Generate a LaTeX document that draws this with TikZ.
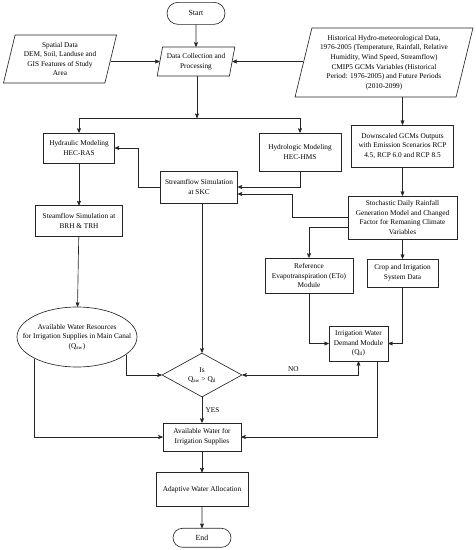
\documentclass[tikz,border=0pt]{standalone}
\usepackage{fontspec}
\setmainfont{Liberation Serif}
\usetikzlibrary{arrows,shapes,positioning}
\tikzset{
  %Define standard arrow tip
    >=stealth',
  %define style for boxes
  kasten/.style={
    rectangle,
    draw=black!85, line width=0.65pt,
    align=center,
    inner sep=1pt,
    font=\fontsize{7.3}{9.6}\selectfont},
  schraeg/.style={
    trapezium,
    trapezium left angle=75,
    trapezium right angle=105,
    trapezium stretches=true,
    draw=black!85, line width=0.65pt,
    align=center,
    inner sep=1pt,
    font=\fontsize{7.3}{9.6}\selectfont},
  rund/.style={
    rounded rectangle,
    draw=black!85, line width=0.65pt,
    inner sep=1pt,
    font=\fontsize{7.8}{9.6}\selectfont},
  raute/.style={
    diamond,
    aspect=1.8,
    draw=black!85, line width=0.65pt,
    align=center,
    inner sep=0pt,
    font=\fontsize{7.3}{9.6}\selectfont},
  oval/.style={
    ellipse,
    draw=black!85, line width=0.65pt,
    inner sep=0pt,
    font=\fontsize{7.3}{9.6}\selectfont},
  %define style for arrows
  pfeil/.style={
    ->,
    draw=black!85,
    line width=0.65pt}
}

\begin{document}
\begin{tikzpicture}[x=1pt, y=-1pt, node distance=21pt]
\useasboundingbox (0,0) rectangle (476,550);
%nodes
\node[schraeg, minimum width=78pt, minimum height=29pt] (daten) at (196,61.5)
     {Data Collection and\\Processing};
\node[rund, minimum width=60pt, minimum height=22pt, above=22pt of daten] (start) {Start};
\node[schraeg, minimum width=114pt, minimum height=48pt] (spatial) at (60,59)
     {Spatial Data\\DEM, Soil, Landuse and\\GIS Features of Study\\Area};
\node[schraeg, minimum width=178pt, minimum height=69pt] (hist) at (384,62.5)
     {Historical Hydro-meteorological Data,\\1976-2005 (Temperature, Rainfall, Relative\\
      Humidity, Wind Speed, Streamflow)\\CMIP5 GCMs Variables (Historical\\
      Period: 1976-2005) and Future Periods\\(2010-2099)};

\node[kasten, minimum width=71pt, minimum height=30pt] (hydra) at (79,148)
     {Hydraulic Modeling\\HEC-RAS};
\node[kasten, minimum width=82pt, minimum height=38pt] (hydro) at (300,152)
     {Hydrologic Modeling\\HEC-HMS};
\node[kasten, minimum width=102pt, minimum height=42pt] (downsc) at (402.5,146)
     {Downscaled GCMs Outputs\\with Emission Scenarios RCP\\4.5, RCP 6.0 and RCP 8.5};
\node[kasten, minimum width=77pt, minimum height=32pt] (skc) at (199,187)
     {Streamflow Simulation\\at SKC};
\node[kasten, minimum width=109pt, minimum height=43pt] (stoch) at (402.5,217.5)
     {Stochastic Daily Rainfall\\Generation Model and Changed\\Factor for Remaning Climate\\Variables};
\node[kasten, minimum width=87pt, minimum height=31pt, below=42pt of hydra] (brh)
     {Steamflow Simulation at\\BRH \& TRH};
\node[kasten, minimum width=88pt, minimum height=35pt] (ref) at (309,275.5)
     {Reference\\Evapotranspiration (ETo)\\Module};
\node[kasten, minimum width=71pt, minimum height=28pt] (crop) at (402.5,273)
     {Crop and Irrigation\\System Data};
\node[kasten, minimum width=59pt, minimum height=35pt] (iwd) at (358.5,343.5)
     {Irrigation Water\\Demand Module\\(Q\textsubscript{d})};

\node[oval, minimum width=120pt, minimum height=60pt] (avail) at (77,337)
     {\makebox[0pt]{\begin{tabular}{@{}c@{}}Available Water Resources\\
      for Irrigation Supplies in Main Canal\\(Q\textsubscript{aw})\end{tabular}}};
\node[raute, minimum width=80pt, minimum height=44pt] (frage) at (202,375)
     {Is\\Q\textsubscript{aw} > Q\textsubscript{d}};
\node[kasten, minimum width=78pt, minimum height=28pt] (water) at (202,437)
     {Available Water for\\Irrigation Supplies};
\node[kasten, minimum width=92pt, minimum height=34pt, below=of water] (adapt)
     {Adaptive Water Allocation};
\node[rund, minimum width=60pt, minimum height=19pt, below=of adapt] (ende) {End};

\coordinate (split) at (197,118);

%arrows
\draw[pfeil] (start) -- (daten);
\draw[pfeil] (spatial.east |- daten.west) -- (daten.west);
\draw[pfeil] (hist.west |- daten.east) -- (daten.east);
\draw[pfeil] (daten.south -| split) -- (split);
\draw[pfeil] (split) -| (hydra.north);
\draw[pfeil] (split) -| (hydro.north);
\draw[pfeil] (downsc.north |- hist.south) -- (downsc.north);
\draw[pfeil] (downsc) -- (stoch);
\draw[pfeil] (hydro.south) |- (skc.east);
\draw[pfeil] (stoch.west) -- ++(-55,0) |- ([yshift=-7pt]skc.east);
\draw[pfeil] (skc.west) -- ++(-22,0) |- (hydra.east);
\draw[pfeil] (hydra) -- (brh);
\draw[pfeil] (brh) -- (avail);
\draw[pfeil] ([yshift=-9.5pt]stoch.west) -| (ref.north);
\draw[pfeil] (stoch.south -| crop.north) -- (crop.north);
\draw[pfeil] (ref.south) |- (iwd.west);
\draw[pfeil] (crop.south) |- (iwd.east);
\draw[pfeil] (frage.north |- skc.south) -- (frage.north);
\draw[pfeil, <->] (frage.east) -| node[pos=0.22, above, font=\fontsize{7.3}{9.6}\selectfont] {NO} (iwd.south);
\draw[pfeil] (avail.-20) |- (frage.west);
\draw[pfeil] (avail.-153) |- (water.west);
\draw[pfeil] ([xshift=18.5pt]iwd.south) |- (water.east);
\draw[pfeil] (frage) -- node[right, font=\fontsize{7.3}{9.6}\selectfont] {YES} (water);
\draw[pfeil] (water) -- (adapt);
\draw[pfeil] (adapt) -- (ende);

\end{tikzpicture}
\end{document}
